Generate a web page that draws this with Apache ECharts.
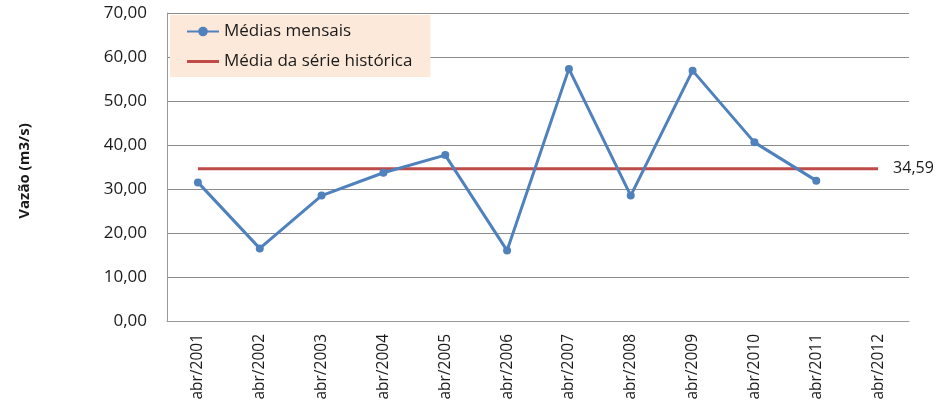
<!DOCTYPE html>
<html>
<head>
<meta charset="utf-8">
<script src="https://cdn.jsdelivr.net/npm/echarts@6/dist/echarts.min.js"></script>
<style>
  html, body { margin: 0; padding: 0; background: #fff; }
  #chart { width: 942px; height: 406px; }
</style>
</head>
<body>
<div id="chart"></div>
<script>
// dados
const categorias = ['abr/2001', 'abr/2002', 'abr/2003', 'abr/2004', 'abr/2005', 'abr/2006',
  'abr/2007', 'abr/2008', 'abr/2009', 'abr/2010', 'abr/2011', 'abr/2012'];
const mediasMensais = [31.5, 16.5, 28.5, 33.7, 37.7, 16.0, 57.3, 28.5, 56.9, 40.6, 31.9, null];
const mediaHistorica = 34.59;

const fonte = 'Open Sans';
const fmt = v => v.toFixed(2).replace('.', ',');

const chart = echarts.init(document.getElementById('chart'));

chart.setOption({
    animation: false,
    textStyle: { fontFamily: fonte },
    grid: { left: 167, right: 33, top: 13, bottom: 85 },
    legend: {
        left: 170,
        top: 15,
        orient: 'vertical',
        backgroundColor: '#fde9d9',
        padding: [8, 18, 7, 16],
        itemGap: 13,
        itemWidth: 32,
        itemHeight: 12,
        textStyle: { fontFamily: fonte, fontSize: 17, color: '#1a1a1a' },
        data: [
            { name: 'Médias mensais' },
            { name: 'Média da série histórica', icon: 'path://M0,0H32V3H0Z' }
        ]
    },
    xAxis: {
        type: 'category',
        data: categorias,
        boundaryGap: true,
        axisLine: { lineStyle: { color: '#999' } },
        axisTick: { show: false },
        axisLabel: { rotate: 90, margin: 13, fontSize: 15.5, color: '#1a1a1a', interval: 0 }
    },
    yAxis: {
        type: 'value',
        min: 0,
        max: 70,
        interval: 10,
        name: 'Vazão (m3/s)',
        nameLocation: 'middle',
        nameGap: 135,
        nameTextStyle: { fontWeight: 'bold', fontSize: 15, color: '#1a1a1a', padding: [0, 8, 0, 0] },
        axisLine: { show: true, lineStyle: { color: '#999' } },
        axisTick: { show: false },
        axisLabel: { formatter: fmt, fontSize: 17, color: '#1a1a1a', margin: 20 },
        splitLine: { lineStyle: { color: '#8c8c8c' } }
    },
    series: [
        {
            name: 'Média da série histórica',
            type: 'line',
            data: categorias.map(() => mediaHistorica),
            symbol: 'none',
            color: '#be4b48',
            lineStyle: { width: 3 },
            endLabel: {
                show: true,
                formatter: () => fmt(mediaHistorica),
                distance: 15,
                fontSize: 16,
                color: '#1a1a1a'
            },
            z: 1
        },
        {
            name: 'Médias mensais',
            type: 'line',
            data: mediasMensais,
            symbol: 'circle',
            symbolSize: 8,
            color: '#4f81bd',
            lineStyle: { width: 3 },
            z: 2
        }
    ]
});
</script>
</body>
</html>
